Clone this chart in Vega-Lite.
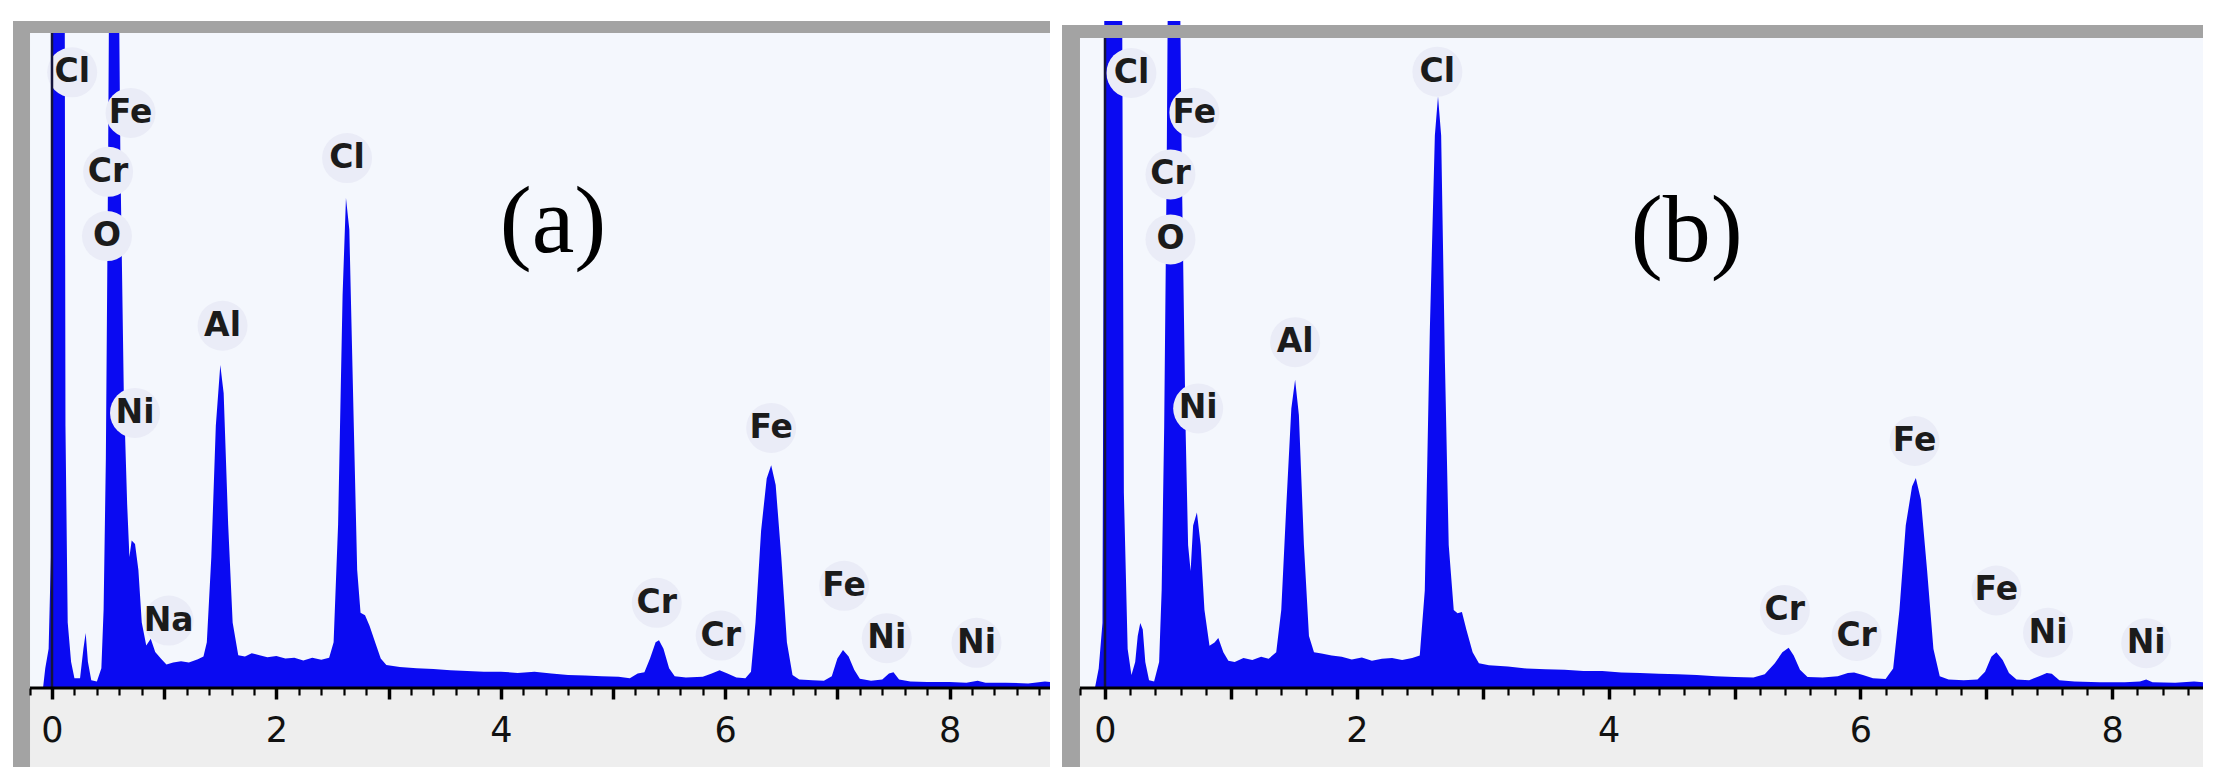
{
  "$schema": "https://vega.github.io/schema/vega-lite/v6.json",
  "background": "white",
  "padding": {"left": 13, "top": 21, "right": 23, "bottom": 12},
  "autosize": {"type": "pad"},
  "spacing": 12,
  "bounds": "flush",
  "config": {
    "view": {"stroke": null},
    "axisY": {"disable": true},
    "axisX": {
      "domain": false, "grid": false, "title": null,
      "tickColor": "#000000",
      "labelFont": "DejaVu Sans", "labelFontSize": 35, "labelColor": "#111111",
      "labelFlush": false
    }
  },
  "datasets": {
    "one": [{}],
    "specA": [
      {"keV": -0.08, "cps": 0}, {"keV": -0.06, "cps": 3}, {"keV": -0.03, "cps": 6}, {"keV": -0.01, "cps": 20},
      {"keV": 0.0, "cps": 140}, {"keV": 0.11, "cps": 140}, {"keV": 0.12, "cps": 40}, {"keV": 0.14, "cps": 10},
      {"keV": 0.17, "cps": 4}, {"keV": 0.2, "cps": 1.5}, {"keV": 0.25, "cps": 1.5}, {"keV": 0.28, "cps": 6},
      {"keV": 0.3, "cps": 8.4}, {"keV": 0.32, "cps": 4}, {"keV": 0.35, "cps": 1.2}, {"keV": 0.4, "cps": 1.0},
      {"keV": 0.44, "cps": 3}, {"keV": 0.46, "cps": 12}, {"keV": 0.48, "cps": 35}, {"keV": 0.5, "cps": 80},
      {"keV": 0.52, "cps": 140}, {"keV": 0.58, "cps": 140}, {"keV": 0.61, "cps": 80}, {"keV": 0.64, "cps": 45},
      {"keV": 0.67, "cps": 28}, {"keV": 0.69, "cps": 20}, {"keV": 0.71, "cps": 22.5}, {"keV": 0.74, "cps": 22},
      {"keV": 0.77, "cps": 18}, {"keV": 0.8, "cps": 10}, {"keV": 0.84, "cps": 6.5}, {"keV": 0.88, "cps": 7.5},
      {"keV": 0.92, "cps": 5.5}, {"keV": 0.97, "cps": 4.5}, {"keV": 1.02, "cps": 3.6}, {"keV": 1.08, "cps": 3.9},
      {"keV": 1.15, "cps": 4.1}, {"keV": 1.22, "cps": 3.9}, {"keV": 1.3, "cps": 4.4}, {"keV": 1.35, "cps": 4.8},
      {"keV": 1.38, "cps": 7}, {"keV": 1.42, "cps": 20}, {"keV": 1.46, "cps": 40}, {"keV": 1.5, "cps": 49.3},
      {"keV": 1.53, "cps": 45}, {"keV": 1.57, "cps": 25}, {"keV": 1.61, "cps": 10}, {"keV": 1.66, "cps": 5},
      {"keV": 1.72, "cps": 4.8}, {"keV": 1.78, "cps": 5.3}, {"keV": 1.85, "cps": 5.0}, {"keV": 1.92, "cps": 4.7},
      {"keV": 2.0, "cps": 4.9}, {"keV": 2.08, "cps": 4.5}, {"keV": 2.16, "cps": 4.6}, {"keV": 2.24, "cps": 4.2},
      {"keV": 2.32, "cps": 4.6}, {"keV": 2.4, "cps": 4.3}, {"keV": 2.47, "cps": 4.6}, {"keV": 2.51, "cps": 7},
      {"keV": 2.55, "cps": 25}, {"keV": 2.59, "cps": 60}, {"keV": 2.62, "cps": 74.8}, {"keV": 2.65, "cps": 70},
      {"keV": 2.69, "cps": 40}, {"keV": 2.72, "cps": 18}, {"keV": 2.75, "cps": 11.5}, {"keV": 2.79, "cps": 11.1},
      {"keV": 2.83, "cps": 9.5}, {"keV": 2.88, "cps": 7}, {"keV": 2.93, "cps": 4.5}, {"keV": 2.98, "cps": 3.5},
      {"keV": 3.1, "cps": 3.2}, {"keV": 3.25, "cps": 3.0}, {"keV": 3.4, "cps": 2.9}, {"keV": 3.55, "cps": 2.7},
      {"keV": 3.7, "cps": 2.6}, {"keV": 3.85, "cps": 2.5}, {"keV": 4.0, "cps": 2.5}, {"keV": 4.15, "cps": 2.3},
      {"keV": 4.3, "cps": 2.5}, {"keV": 4.45, "cps": 2.2}, {"keV": 4.6, "cps": 2.0}, {"keV": 4.75, "cps": 1.9},
      {"keV": 4.9, "cps": 1.8}, {"keV": 5.05, "cps": 1.7}, {"keV": 5.15, "cps": 1.5}, {"keV": 5.22, "cps": 2.2},
      {"keV": 5.28, "cps": 2.4}, {"keV": 5.33, "cps": 4.5}, {"keV": 5.38, "cps": 7.0}, {"keV": 5.41, "cps": 7.3},
      {"keV": 5.45, "cps": 6}, {"keV": 5.5, "cps": 3}, {"keV": 5.55, "cps": 1.8}, {"keV": 5.65, "cps": 1.6},
      {"keV": 5.8, "cps": 1.7}, {"keV": 5.88, "cps": 2.2}, {"keV": 5.95, "cps": 2.7}, {"keV": 6.02, "cps": 2.2},
      {"keV": 6.1, "cps": 1.6}, {"keV": 6.18, "cps": 1.5}, {"keV": 6.23, "cps": 2.5}, {"keV": 6.27, "cps": 10},
      {"keV": 6.32, "cps": 24}, {"keV": 6.37, "cps": 32}, {"keV": 6.41, "cps": 34}, {"keV": 6.45, "cps": 31},
      {"keV": 6.5, "cps": 20}, {"keV": 6.55, "cps": 7}, {"keV": 6.6, "cps": 2}, {"keV": 6.66, "cps": 1.3},
      {"keV": 6.78, "cps": 1.2}, {"keV": 6.88, "cps": 1.1}, {"keV": 6.95, "cps": 1.8}, {"keV": 7.0, "cps": 4.5},
      {"keV": 7.05, "cps": 5.8}, {"keV": 7.1, "cps": 4.8}, {"keV": 7.15, "cps": 2.8}, {"keV": 7.2, "cps": 1.4},
      {"keV": 7.3, "cps": 1.1}, {"keV": 7.4, "cps": 1.3}, {"keV": 7.46, "cps": 2.2}, {"keV": 7.5, "cps": 2.4},
      {"keV": 7.55, "cps": 1.3}, {"keV": 7.65, "cps": 1.0}, {"keV": 7.8, "cps": 0.9}, {"keV": 8.0, "cps": 0.9},
      {"keV": 8.15, "cps": 0.8}, {"keV": 8.25, "cps": 1.1}, {"keV": 8.32, "cps": 0.8}, {"keV": 8.5, "cps": 0.8},
      {"keV": 8.7, "cps": 0.7}, {"keV": 8.85, "cps": 1.0}, {"keV": 8.895, "cps": 0.9}
    ],
    "specB": [
      {"keV": -0.08, "cps": 0}, {"keV": -0.05, "cps": 3}, {"keV": -0.02, "cps": 10}, {"keV": 0.0, "cps": 140},
      {"keV": 0.13, "cps": 140}, {"keV": 0.15, "cps": 30}, {"keV": 0.18, "cps": 6}, {"keV": 0.21, "cps": 2},
      {"keV": 0.24, "cps": 4}, {"keV": 0.26, "cps": 8}, {"keV": 0.28, "cps": 10}, {"keV": 0.3, "cps": 9},
      {"keV": 0.32, "cps": 4}, {"keV": 0.35, "cps": 1.2}, {"keV": 0.39, "cps": 1.0}, {"keV": 0.43, "cps": 4},
      {"keV": 0.45, "cps": 15}, {"keV": 0.47, "cps": 40}, {"keV": 0.49, "cps": 80}, {"keV": 0.51, "cps": 140},
      {"keV": 0.58, "cps": 140}, {"keV": 0.61, "cps": 80}, {"keV": 0.64, "cps": 40}, {"keV": 0.66, "cps": 22},
      {"keV": 0.68, "cps": 18}, {"keV": 0.7, "cps": 25}, {"keV": 0.73, "cps": 27}, {"keV": 0.76, "cps": 22},
      {"keV": 0.79, "cps": 12}, {"keV": 0.83, "cps": 6.5}, {"keV": 0.87, "cps": 7}, {"keV": 0.9, "cps": 7.7},
      {"keV": 0.94, "cps": 5.5}, {"keV": 0.98, "cps": 4.2}, {"keV": 1.03, "cps": 4.0}, {"keV": 1.1, "cps": 4.6},
      {"keV": 1.17, "cps": 4.3}, {"keV": 1.24, "cps": 4.8}, {"keV": 1.3, "cps": 4.5}, {"keV": 1.36, "cps": 5.5},
      {"keV": 1.4, "cps": 12}, {"keV": 1.44, "cps": 28}, {"keV": 1.48, "cps": 43}, {"keV": 1.51, "cps": 47.4},
      {"keV": 1.54, "cps": 42}, {"keV": 1.58, "cps": 22}, {"keV": 1.62, "cps": 8}, {"keV": 1.66, "cps": 5.5},
      {"keV": 1.72, "cps": 5.3}, {"keV": 1.8, "cps": 5.0}, {"keV": 1.88, "cps": 4.8}, {"keV": 1.96, "cps": 4.4},
      {"keV": 2.04, "cps": 4.7}, {"keV": 2.12, "cps": 4.2}, {"keV": 2.2, "cps": 4.5}, {"keV": 2.28, "cps": 4.6},
      {"keV": 2.36, "cps": 4.3}, {"keV": 2.44, "cps": 4.6}, {"keV": 2.5, "cps": 5}, {"keV": 2.54, "cps": 15},
      {"keV": 2.58, "cps": 55}, {"keV": 2.62, "cps": 85}, {"keV": 2.645, "cps": 91}, {"keV": 2.67, "cps": 85},
      {"keV": 2.7, "cps": 50}, {"keV": 2.73, "cps": 22}, {"keV": 2.77, "cps": 12}, {"keV": 2.8, "cps": 11.5},
      {"keV": 2.835, "cps": 11.7}, {"keV": 2.87, "cps": 9}, {"keV": 2.92, "cps": 5.5}, {"keV": 2.97, "cps": 3.8},
      {"keV": 3.05, "cps": 3.5}, {"keV": 3.2, "cps": 3.3}, {"keV": 3.35, "cps": 3.0}, {"keV": 3.5, "cps": 2.9},
      {"keV": 3.65, "cps": 2.8}, {"keV": 3.8, "cps": 2.6}, {"keV": 3.95, "cps": 2.6}, {"keV": 4.1, "cps": 2.4},
      {"keV": 4.25, "cps": 2.3}, {"keV": 4.4, "cps": 2.2}, {"keV": 4.55, "cps": 2.1}, {"keV": 4.7, "cps": 2.0},
      {"keV": 4.85, "cps": 1.8}, {"keV": 5.0, "cps": 1.7}, {"keV": 5.15, "cps": 1.6}, {"keV": 5.24, "cps": 2.1},
      {"keV": 5.32, "cps": 3.8}, {"keV": 5.38, "cps": 5.5}, {"keV": 5.43, "cps": 6.2}, {"keV": 5.47, "cps": 5},
      {"keV": 5.52, "cps": 2.8}, {"keV": 5.58, "cps": 1.7}, {"keV": 5.7, "cps": 1.6}, {"keV": 5.82, "cps": 1.8},
      {"keV": 5.9, "cps": 2.3}, {"keV": 5.95, "cps": 2.4}, {"keV": 6.02, "cps": 2.0}, {"keV": 6.1, "cps": 1.5},
      {"keV": 6.2, "cps": 1.4}, {"keV": 6.26, "cps": 3}, {"keV": 6.31, "cps": 12}, {"keV": 6.36, "cps": 25},
      {"keV": 6.41, "cps": 31}, {"keV": 6.44, "cps": 32.3}, {"keV": 6.48, "cps": 29}, {"keV": 6.53, "cps": 18},
      {"keV": 6.58, "cps": 6}, {"keV": 6.63, "cps": 1.8}, {"keV": 6.7, "cps": 1.3}, {"keV": 6.82, "cps": 1.2},
      {"keV": 6.93, "cps": 1.3}, {"keV": 6.99, "cps": 2.5}, {"keV": 7.04, "cps": 4.8}, {"keV": 7.08, "cps": 5.5},
      {"keV": 7.13, "cps": 4.3}, {"keV": 7.18, "cps": 2.3}, {"keV": 7.24, "cps": 1.3}, {"keV": 7.34, "cps": 1.2},
      {"keV": 7.42, "cps": 1.8}, {"keV": 7.48, "cps": 2.3}, {"keV": 7.52, "cps": 2.2}, {"keV": 7.58, "cps": 1.2},
      {"keV": 7.7, "cps": 1.0}, {"keV": 7.9, "cps": 0.9}, {"keV": 8.1, "cps": 0.9}, {"keV": 8.22, "cps": 1.0},
      {"keV": 8.27, "cps": 1.3}, {"keV": 8.32, "cps": 0.9}, {"keV": 8.5, "cps": 0.8}, {"keV": 8.65, "cps": 1.0},
      {"keV": 8.721, "cps": 0.9}
    ],
    "labA": [
      {"keV": 0.18, "cps": 94.0, "el": "Cl"}, {"keV": 0.70, "cps": 87.8, "el": "Fe"},
      {"keV": 0.50, "cps": 78.8, "el": "Cr"}, {"keV": 0.49, "cps": 69.0, "el": "O"},
      {"keV": 0.74, "cps": 42.0, "el": "Ni"}, {"keV": 1.04, "cps": 10.3, "el": "Na"},
      {"keV": 1.52, "cps": 55.3, "el": "Al"}, {"keV": 2.63, "cps": 80.9, "el": "Cl"},
      {"keV": 5.39, "cps": 13.0, "el": "Cr"}, {"keV": 5.96, "cps": 8.0, "el": "Cr"},
      {"keV": 6.41, "cps": 39.7, "el": "Fe"}, {"keV": 7.06, "cps": 15.6, "el": "Fe"},
      {"keV": 7.44, "cps": 7.6, "el": "Ni"}, {"keV": 8.24, "cps": 6.9, "el": "Ni"}
    ],
    "labB": [
      {"keV": 0.21, "cps": 94.6, "el": "Cl"}, {"keV": 0.71, "cps": 88.5, "el": "Fe"},
      {"keV": 0.52, "cps": 79.0, "el": "Cr"}, {"keV": 0.52, "cps": 69.0, "el": "O"},
      {"keV": 0.74, "cps": 43.0, "el": "Ni"}, {"keV": 1.51, "cps": 53.2, "el": "Al"},
      {"keV": 2.64, "cps": 94.8, "el": "Cl"}, {"keV": 5.40, "cps": 12.0, "el": "Cr"},
      {"keV": 5.97, "cps": 8.0, "el": "Cr"}, {"keV": 6.43, "cps": 38.0, "el": "Fe"},
      {"keV": 7.08, "cps": 15.0, "el": "Fe"}, {"keV": 7.49, "cps": 8.5, "el": "Ni"},
      {"keV": 8.27, "cps": 6.9, "el": "Ni"}
    ]
  },
  "hconcat": [
    {
      "width": 1037,
      "height": 667,
      "resolve": {"axis": {"x": "independent"}},
      "layer": [
        {
          "data": {"name": "one"},
          "mark": {"type": "rect", "color": "#F4F7FD"},
          "encoding": {
            "x": {"datum": -0.196, "type": "quantitative", "axis": null, "scale": {"domain": [-0.3476, 8.895], "nice": false, "zero": false}},
            "x2": {"datum": 8.895},
            "y": {"datum": 0, "type": "quantitative", "scale": {"domain": [0, 101.83], "nice": false, "zero": false}},
            "y2": {"datum": 100}
          }
        },
        {
          "data": {"name": "one"},
          "mark": {"type": "rect", "color": "#EEEEEE"},
          "encoding": {
            "x": {"datum": -0.196, "type": "quantitative", "axis": null}, "x2": {"datum": 8.895},
            "y": {"datum": -12.06, "type": "quantitative"}, "y2": {"datum": 0}
          }
        },
        {
          "data": {"name": "specA"},
          "mark": {"type": "area", "color": "#0A0AF2", "clip": true, "interpolate": "linear"},
          "encoding": {
            "x": {"field": "keV", "type": "quantitative",
              "axis": {"orient": "bottom", "zindex": 2, "labels": false, "tickSize": 7, "tickWidth": 2.2,
                "values": [-0.2,0.2,0.4,0.6,0.8,1.2,1.4,1.6,1.8,2.2,2.4,2.6,2.8,3.2,3.4,3.6,3.8,4.2,4.4,4.6,4.8,5.2,5.4,5.6,5.8,6.2,6.4,6.6,6.8,7.2,7.4,7.6,7.8,8.2,8.4,8.6,8.8]}},
            "y": {"field": "cps", "type": "quantitative"}
          }
        },
        {
          "data": {"name": "labA"},
          "mark": {"type": "point", "filled": true, "shape": "circle", "size": 2500, "color": "#EAECF7", "opacity": 1},
          "encoding": {
            "x": {"field": "keV", "type": "quantitative",
              "axis": {"orient": "bottom", "zindex": 2, "values": [0, 2, 4, 6, 8], "tickSize": 11, "tickWidth": 3.5, "labelPadding": 14, "labelOverlap": false}},
            "y": {"field": "cps", "type": "quantitative"}
          }
        },
        {
          "data": {"name": "one"},
          "mark": {"type": "rule", "color": "#14143C", "strokeWidth": 2.5},
          "encoding": {
            "x": {"datum": 0, "type": "quantitative",
              "axis": {"orient": "bottom", "zindex": 2, "values": [1, 3, 5, 7], "tickSize": 11, "tickWidth": 3.5, "labels": false}},
            "y": {"datum": 0, "type": "quantitative"}, "y2": {"datum": 100}
          }
        },
        {
          "data": {"name": "labA"},
          "mark": {"type": "text", "font": "DejaVu Sans", "fontWeight": "bold", "fontSize": 33, "color": "#1B1B1B", "align": "center", "baseline": "middle"},
          "encoding": {"x": {"field": "keV", "type": "quantitative", "axis": null}, "y": {"field": "cps", "type": "quantitative"}, "text": {"field": "el"}}
        },
        {
          "data": {"values": [{"keV": 4.465, "cps": 66.6, "tag": "(a)"}]},
          "mark": {"type": "text", "font": "Liberation Serif", "fontSize": 96, "color": "#000000", "align": "center", "baseline": "alphabetic"},
          "encoding": {"x": {"field": "keV", "type": "quantitative", "axis": null}, "y": {"field": "cps", "type": "quantitative"}, "text": {"field": "tag"}}
        },
        {
          "data": {"name": "one"},
          "mark": {"type": "rect", "color": "#A3A3A3"},
          "encoding": {
            "x": {"datum": -0.3476, "type": "quantitative", "axis": null}, "x2": {"datum": -0.196},
            "y": {"datum": -12.06, "type": "quantitative"}, "y2": {"datum": 101.83}
          }
        },
        {
          "data": {"name": "one"},
          "mark": {"type": "rect", "color": "#A3A3A3"},
          "encoding": {
            "x": {"datum": -0.3476, "type": "quantitative", "axis": null}, "x2": {"datum": 8.895},
            "y": {"datum": 100, "type": "quantitative"}, "y2": {"datum": 101.83}
          }
        },
        {
          "data": {"name": "one"},
          "mark": {"type": "rule", "color": "#000000", "strokeWidth": 3},
          "encoding": {"x": {"datum": -0.196, "type": "quantitative", "axis": null}, "x2": {"datum": 8.895}, "y": {"datum": 0, "type": "quantitative"}}
        }
      ]
    },
    {
      "width": 1141,
      "height": 667,
      "resolve": {"axis": {"x": "independent"}},
      "layer": [
        {
          "data": {"name": "one"},
          "mark": {"type": "rect", "color": "#F4F7FD"},
          "encoding": {
            "x": {"datum": -0.1986, "type": "quantitative", "axis": null, "scale": {"domain": [-0.3415, 8.721], "nice": false, "zero": false}},
            "x2": {"datum": 8.721},
            "y": {"datum": 0, "type": "quantitative", "scale": {"domain": [0, 102.6], "nice": false, "zero": false}},
            "y2": {"datum": 100}
          }
        },
        {
          "data": {"name": "one"},
          "mark": {"type": "rect", "color": "#EEEEEE"},
          "encoding": {
            "x": {"datum": -0.1986, "type": "quantitative", "axis": null}, "x2": {"datum": 8.721},
            "y": {"datum": -12.15, "type": "quantitative"}, "y2": {"datum": 0}
          }
        },
        {
          "data": {"name": "specB"},
          "mark": {"type": "area", "color": "#0A0AF2", "clip": true, "interpolate": "linear"},
          "encoding": {
            "x": {"field": "keV", "type": "quantitative",
              "axis": {"orient": "bottom", "zindex": 2, "labels": false, "tickSize": 7, "tickWidth": 2.2,
                "values": [-0.2,0.2,0.4,0.6,0.8,1.2,1.4,1.6,1.8,2.2,2.4,2.6,2.8,3.2,3.4,3.6,3.8,4.2,4.4,4.6,4.8,5.2,5.4,5.6,5.8,6.2,6.4,6.6,6.8,7.2,7.4,7.6,7.8,8.2,8.4,8.6]}},
            "y": {"field": "cps", "type": "quantitative"}
          }
        },
        {
          "data": {"name": "labB"},
          "mark": {"type": "point", "filled": true, "shape": "circle", "size": 2500, "color": "#EAECF7", "opacity": 1},
          "encoding": {
            "x": {"field": "keV", "type": "quantitative",
              "axis": {"orient": "bottom", "zindex": 2, "values": [0, 2, 4, 6, 8], "tickSize": 11, "tickWidth": 3.5, "labelPadding": 14, "labelOverlap": false}},
            "y": {"field": "cps", "type": "quantitative"}
          }
        },
        {
          "data": {"name": "one"},
          "mark": {"type": "rule", "color": "#14143C", "strokeWidth": 2.5},
          "encoding": {
            "x": {"datum": 0, "type": "quantitative",
              "axis": {"orient": "bottom", "zindex": 2, "values": [1, 3, 5, 7], "tickSize": 11, "tickWidth": 3.5, "labels": false}},
            "y": {"datum": 0, "type": "quantitative"}, "y2": {"datum": 100}
          }
        },
        {
          "data": {"name": "labB"},
          "mark": {"type": "text", "font": "DejaVu Sans", "fontWeight": "bold", "fontSize": 33, "color": "#1B1B1B", "align": "center", "baseline": "middle"},
          "encoding": {"x": {"field": "keV", "type": "quantitative", "axis": null}, "y": {"field": "cps", "type": "quantitative"}, "text": {"field": "el"}}
        },
        {
          "data": {"values": [{"keV": 4.62, "cps": 65.7, "tag": "(b)"}]},
          "mark": {"type": "text", "font": "Liberation Serif", "fontSize": 96, "color": "#000000", "align": "center", "baseline": "alphabetic"},
          "encoding": {"x": {"field": "keV", "type": "quantitative", "axis": null}, "y": {"field": "cps", "type": "quantitative"}, "text": {"field": "tag"}}
        },
        {
          "data": {"name": "one"},
          "mark": {"type": "rect", "color": "#A3A3A3"},
          "encoding": {
            "x": {"datum": -0.3415, "type": "quantitative", "axis": null}, "x2": {"datum": -0.1986},
            "y": {"datum": -12.15, "type": "quantitative"}, "y2": {"datum": 102.0}
          }
        },
        {
          "data": {"name": "one"},
          "mark": {"type": "rect", "color": "#A3A3A3"},
          "encoding": {
            "x": {"datum": -0.3415, "type": "quantitative", "axis": null}, "x2": {"datum": 8.721},
            "y": {"datum": 100, "type": "quantitative"}, "y2": {"datum": 102.0}
          }
        },
        {
          "data": {"name": "one"},
          "mark": {"type": "rule", "color": "#000000", "strokeWidth": 3},
          "encoding": {"x": {"datum": -0.1986, "type": "quantitative", "axis": null}, "x2": {"datum": 8.721}, "y": {"datum": 0, "type": "quantitative"}}
        }
      ]
    }
  ]
}
